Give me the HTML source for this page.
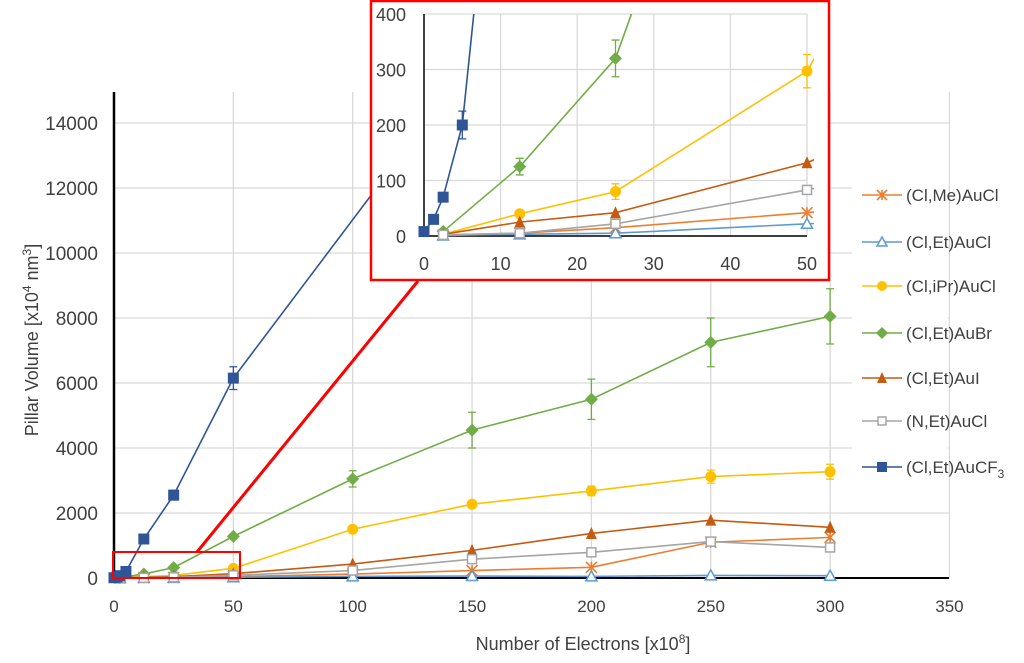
<!DOCTYPE html>
<html><head><meta charset="utf-8"><style>
body{margin:0;background:#fff;font-family:"Liberation Sans",sans-serif}
svg text{font-family:"Liberation Sans",sans-serif;fill:#404040}
</style></head><body>
<svg id="c" width="1024" height="658" viewBox="0 0 1024 658" xmlns="http://www.w3.org/2000/svg"></svg>
<script>
const seriesNames = ["(Cl,Me)AuCl","(Cl,Et)AuCl","(Cl,iPr)AuCl","(Cl,Et)AuBr","(Cl,Et)AuI","(N,Et)AuCl","(Cl,Et)AuCF3"];
const seriesColors = ["#ed7d31","#5b9bd5","#ffc000","#70ad47","#c55a11","#a5a5a5","#2f5597"];
const seriesMarkers = ["star","tri-open","circle","diamond","tri","sq-open","sq"];
const meX = [2.5,12.5,25,50,100,150,200,250,300];
const valMe   = [2,5,15,42,120,230,330,1100,1250];
const valEtCl = [1,3,5,22,50,60,50,80,70];
const valIPr  = [3,40,80,297,1500,2270,2680,3120,3270];
const valBr   = [8,125,320,1280,3050,4550,5500,7250,8050];
const valI    = [3,25,42,132,430,850,1370,1780,1560];
const valN    = [2,5,22,83,230,580,790,1120,940];
const cfX   = [0,1.25,2.5,5,12.5,25,50,150];
const valCF = [8,30,70,200,1200,2550,6150,15900];
const errBr = [3,15,33,60,250,550,620,750,850];
const errIPr= [1,5,14,30,80,100,150,200,230];
const errCF = [2,5,8,25,60,150,350,0];
const xTicks = [0,50,100,150,200,250,300,350];
const yTicks = [0,2000,4000,6000,8000,10000,12000,14000];
const ixTicks = [0,10,20,30,40,50];
const iyTicks = [0,100,200,300,400];

const NS="http://www.w3.org/2000/svg";
const svg=document.getElementById('c');
function el(tag,attrs,parent){const e=document.createElementNS(NS,tag);for(const k in attrs)e.setAttribute(k,attrs[k]);(parent||svg).appendChild(e);return e;}
const X=v=>114+v*2.387, Y=v=>578-v*0.0325;
const IX=v=>424+v*7.66, IY=v=>236-v*0.555;
const allData=[[meX,valMe],[meX,valEtCl],[meX,valIPr],[meX,valBr],[meX,valI],[meX,valN],[cfX,valCF]];
const errs=[null,null,errIPr,errBr,null,null,errCF];

function marker(g,type,x,y,c,s){
  let m;
  if(type==="sq") m=el('rect',{x:x-s,y:y-s,width:2*s,height:2*s,fill:c},g);
  else if(type==="sq-open") m=el('rect',{x:x-s+1,y:y-s+1,width:2*s-2,height:2*s-2,fill:'#fff',stroke:c,'stroke-width':1.5},g);
  else if(type==="circle") m=el('circle',{cx:x,cy:y,r:s,fill:c},g);
  else if(type==="diamond") m=el('polygon',{points:`${x},${y-s-1} ${x+s+1},${y} ${x},${y+s+1} ${x-s-1},${y}`,fill:c},g);
  else if(type==="tri") m=el('polygon',{points:`${x},${y-s-1} ${x+s},${y+s} ${x-s},${y+s}`,fill:c},g);
  else if(type==="tri-open") m=el('polygon',{points:`${x},${y-s} ${x+s},${y+s-1} ${x-s},${y+s-1}`,fill:'#fff',stroke:c,'stroke-width':1.5},g);
  else { m=el('path',{d:`M${x-s},${y-s}L${x+s},${y+s}M${x+s},${y-s}L${x-s},${y+s}M${x},${y-s}L${x},${y+s}`,stroke:c,'stroke-width':1.6},g); }
  return m;
}
function drawSeries(g,xf,yf,clip,s){
  allData.forEach((d,i)=>{
    const sg=el('g',{'clip-path':clip},g);
    
    
    const pts=d[0].map((x,j)=>xf(x)+','+yf(d[1][j])).join(' ');
    el('polyline',{points:pts,fill:'none',stroke:seriesColors[i],'stroke-width':1.6},sg);
    d[0].forEach((x,j)=>{
      const e=errs[i]?errs[i][j]:0;
      if(e>0){const px=xf(x);el('path',{d:`M${px},${yf(d[1][j]-e)}V${yf(d[1][j]+e)}M${px-4},${yf(d[1][j]-e)}h8M${px-4},${yf(d[1][j]+e)}h8`,stroke:seriesColors[i],'stroke-width':1.3},sg);}
      const m=marker(sg,seriesMarkers[i],xf(x),yf(d[1][j]),seriesColors[i],s);
      
      
    });
  });
}
const defs=el('defs',{});
const mc=el('clipPath',{id:'mc'},defs);
el('rect',{x:100,y:92,width:860,height:500},mc);
const ic=el('clipPath',{id:'ic'},defs);
el('rect',{x:414,y:14,width:400,height:232},ic);

const grid=el('g',{});


yTicks.forEach(t=>{el('line',{x1:114,x2:949,y1:Y(t),y2:Y(t),stroke:'#d9d9d9','stroke-width':1.3},grid);
  const tx=el('text',{x:98,y:Y(t)+7,'text-anchor':'end','font-size':19},grid);tx.textContent=t;});
xTicks.forEach(t=>{if(t>0)el('line',{x1:X(t),x2:X(t),y1:Y(0),y2:92,stroke:'#d9d9d9','stroke-width':1.3},grid);
  const tx=el('text',{x:X(t),y:612,'text-anchor':'middle','font-size':17},grid);tx.textContent=t;});
el('line',{x1:114,x2:114,y1:92,y2:579,stroke:'#000','stroke-width':2.5});
el('line',{x1:113,x2:949,y1:578,y2:578,stroke:'#000','stroke-width':2});
const mainG=el('g',{});


drawSeries(mainG,X,Y,'url(#mc)',5.5);
let t=el('text',{x:583,y:650,'text-anchor':'middle','font-size':18});t.innerHTML='Number of Electrons [x10<tspan dy="-7" font-size="12">8</tspan><tspan dy="7">]</tspan>';

t=el('text',{x:0,y:0,'text-anchor':'middle','font-size':18,transform:'translate(38,340) rotate(-90)'});t.innerHTML='Pillar Volume [x10<tspan dy="-7" font-size="12">4</tspan><tspan dy="7"> nm</tspan><tspan dy="-7" font-size="12">3</tspan><tspan dy="7">]</tspan>';

el('rect',{x:113,y:552,width:127,height:26,fill:'none',stroke:'#f00','stroke-width':2});
el('line',{x1:197,y1:552,x2:418,y2:281,stroke:'#f00','stroke-width':3});
const ins=el('g',{});


el('rect',{x:371,y:1,width:458,height:279,fill:'#fff',stroke:'#f00','stroke-width':2.5},ins);
iyTicks.forEach(v=>{el('line',{x1:424,x2:807,y1:IY(v),y2:IY(v),stroke:'#d9d9d9','stroke-width':1.3},ins);
  const tx=el('text',{x:406,y:IY(v)+7,'text-anchor':'end','font-size':18},ins);tx.textContent=v;});
ixTicks.forEach(v=>{if(v>0)el('line',{x1:IX(v),x2:IX(v),y1:14,y2:236,stroke:'#d9d9d9','stroke-width':1.3},ins);
  const tx=el('text',{x:IX(v),y:270,'text-anchor':'middle','font-size':18},ins);tx.textContent=v;});
el('line',{x1:424,x2:424,y1:14,y2:237,stroke:'#000','stroke-width':1.5},ins);
el('line',{x1:424,x2:807,y1:236,y2:236,stroke:'#000','stroke-width':1.5},ins);
drawSeries(ins,IX,IY,'url(#ic)',5.5);
const lg=el('g',{});


el('rect',{x:852,y:178,width:96,height:305,fill:'#fff'},lg);
const ly=[195,242,286,333,378,421,467];
seriesNames.forEach((n,i)=>{
  const e=el('g',{},lg);
  
  
  el('line',{x1:862,x2:902,y1:ly[i],y2:ly[i],stroke:seriesColors[i],'stroke-width':1.6},e);
  marker(e,seriesMarkers[i],882,ly[i],seriesColors[i],5);
  const tx=el('text',{x:906,y:ly[i]+6,'font-size':17},e);
  if(i===6) tx.innerHTML='(Cl,Et)AuCF<tspan dy="5" font-size="12">3</tspan>'; else tx.textContent=n;
});
</script>
</body></html>
